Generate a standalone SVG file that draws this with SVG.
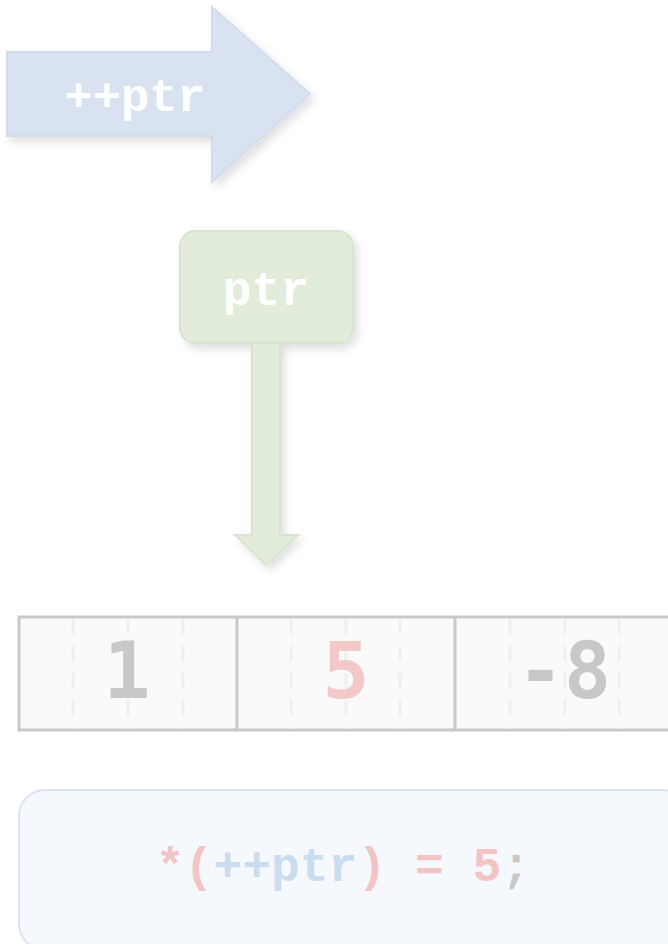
<svg xmlns="http://www.w3.org/2000/svg" width="668" height="944" viewBox="0 0 668 944">
<defs>
<filter id="sh" x="-20%" y="-20%" width="150%" height="150%">
<feDropShadow dx="4" dy="5" stdDeviation="4" flood-color="#000" flood-opacity="0.12"/>
</filter>
<style>
.mono{font-family:"Liberation Mono","Courier New",monospace;font-weight:bold}
.num{font-family:"DejaVu Sans Mono","Liberation Mono",monospace;font-weight:bold;font-size:78px;text-anchor:middle}
.dash{stroke:#efefef;stroke-width:3;stroke-dasharray:15 12}
</style>
</defs>
<rect width="668" height="944" fill="#ffffff"/>
<g id="incr-arrow">
<path d="M7 52 H212 V7 L310 94 L212 182 V136 H7 Z" fill="#d9e2f1" stroke="#d3dced" stroke-width="2" filter="url(#sh)"/>
<text class="mono" x="135" y="111" font-size="47" fill="#ffffff" text-anchor="middle">++ptr</text>
</g>
<g id="ptr-node">
<rect x="180" y="231" width="173" height="112" rx="15" fill="#e2ecda" stroke="#d8e4cf" stroke-width="2" filter="url(#sh)"/>
<text class="mono" x="266" y="305" font-size="48" fill="#ffffff" text-anchor="middle">ptr</text>
</g>
<g id="connectors">
<path d="M252 343 H280 V535 H298 L266 565 L235 535 H252 Z" fill="#e2ecda" stroke="#d8e4cf" stroke-width="2" filter="url(#sh)"/>
</g>
<g id="array">
<rect x="19" y="617" width="680" height="113" fill="#fafafa" stroke="#c9c9c9" stroke-width="3"/>
<g class="dash">
<line x1="73" y1="619" x2="73" y2="729"/>
<line x1="128" y1="619" x2="128" y2="729"/>
<line x1="183" y1="619" x2="183" y2="729"/>
<line x1="291" y1="619" x2="291" y2="729"/>
<line x1="346" y1="619" x2="346" y2="729"/>
<line x1="400" y1="619" x2="400" y2="729"/>
<line x1="510" y1="619" x2="510" y2="729"/>
<line x1="565" y1="619" x2="565" y2="729"/>
<line x1="619" y1="619" x2="619" y2="729"/>
</g>
<line x1="237" y1="617" x2="237" y2="730" stroke="#c9c9c9" stroke-width="3"/>
<line x1="455" y1="617" x2="455" y2="730" stroke="#c9c9c9" stroke-width="3"/>
<g id="cell0"><text class="num" x="127" y="698" fill="#c8c8c8">1</text></g>
<g id="cell1"><text class="num" x="346" y="698" fill="#f2c8c8">5</text></g>
<g id="cell2"><text class="num" x="564" y="698" fill="#c8c8c8">-8</text></g>
</g>
<g id="code">
<rect x="19" y="790" width="670" height="160" rx="26" fill="#f5f8fc" stroke="#dae3ef" stroke-width="2"/>
<text class="mono" x="343" y="881" font-size="48" text-anchor="middle"><tspan fill="#f2c4c4">*(</tspan><tspan fill="#c9dcf0">++ptr</tspan><tspan fill="#f2c4c4">) = 5</tspan><tspan fill="#c8c8c8">;</tspan></text>
</g>
</svg>
